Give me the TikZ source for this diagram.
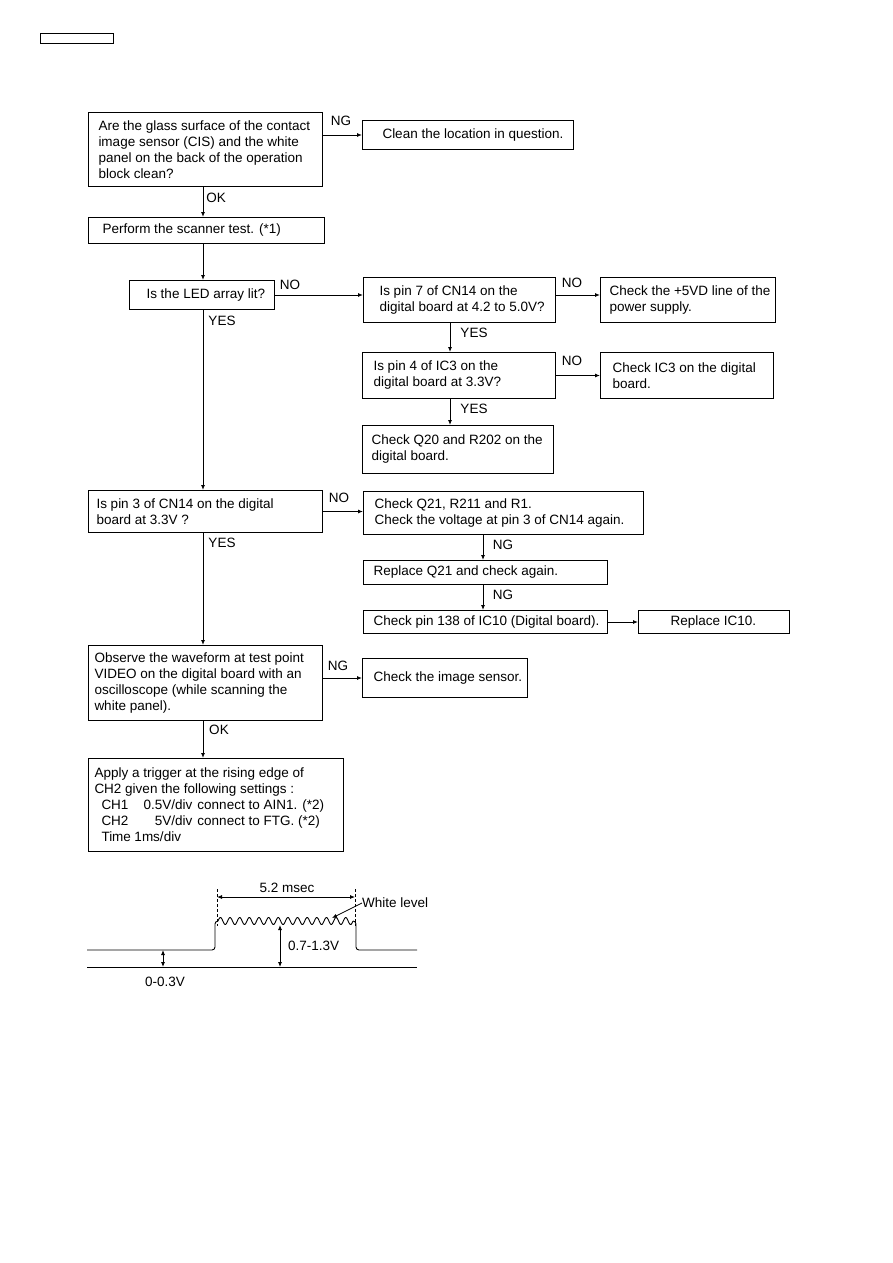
\documentclass[tikz,border=0pt]{standalone}
\usepackage{fontspec}
\setmainfont{Liberation Sans}
\usetikzlibrary{arrows.meta}
\newcommand\fbx[7]{\node[bx, minimum height=#5pt] (#1) at (#2,#3) {\parbox{#4pt}{\leftskip=#6pt\relax\rightskip=0pt plus 1fil\relax #7\par}};}
\begin{document}
\begin{tikzpicture}[x=1pt,y=-1pt,
  every node/.style={font=\fontsize{13.5}{16}\selectfont},
  bx/.style={draw, line width=1pt, anchor=north west, inner sep=0pt},
  tip/.style={-{Latex[length=5pt,width=4pt]}},
  arr/.style={line width=0.9pt, tip},
  dim/.style={line width=0.8pt, {Latex[length=5pt,width=4pt]}-{Latex[length=5pt,width=4pt]}},
  lbl/.style={inner sep=0pt},
  wv/.style={line width=0.9pt}]
\useasboundingbox (0,0) rectangle (893,1263);
\fill[white] (0,0) rectangle (893,1263);

% header box
\node[draw, line width=1pt, anchor=north west, minimum width=73pt, minimum height=10pt, inner sep=0pt] (hdr) at (40,33) {};

% boxes
\fbx{b1}{88}{112}{234}{74}{10}{Are the glass surface of the contact\\image sensor (CIS) and the white\\panel on the back of the operation\\block clean?}
\fbx{clean}{362}{120}{211}{29}{20}{Clean the location in question.}
\fbx{b2}{88}{217}{236}{26}{14}{Perform the scanner test. (*1)}
\fbx{led}{129}{280}{145}{29}{17}{Is the LED array lit?}
\fbx{pin7}{363}{277}{192}{45}{16}{Is pin 7 of CN14 on the\\digital board at 4.2 to 5.0V?}
\fbx{p5v}{600}{277}{175}{45}{9}{Check the +5VD line of the\\power supply.}
\fbx{ic3q}{362}{352}{193}{46}{11}{Is pin 4 of IC3 on the\\digital board at 3.3V?}
\fbx{ic3c}{600}{352}{173}{46}{12}{Check IC3 on the digital\\board.}
\fbx{q20}{362}{425}{191}{48}{9}{Check Q20 and R202 on the\\digital board.}
\fbx{pin3}{88}{490}{234}{42}{8}{Is pin 3 of CN14 on the digital\\board at 3.3V ?}
\fbx{q21}{363}{491}{280}{43}{11}{Check Q21, R211 and R1.\\Check the voltage at pin 3 of CN14 again.}
\fbx{rq21}{363}{560}{244}{24}{10}{Replace Q21 and check again.}
\fbx{p138}{363}{610}{244}{23}{10}{Check pin 138 of IC10 (Digital board).}
\fbx{ric10}{638}{610}{151}{23}{32}{Replace IC10.}
\fbx{video}{88}{645}{234}{75}{6}{Observe the waveform at test point\\VIDEO on the digital board with an\\oscilloscope (while scanning the\\white panel).}
\fbx{imgs}{362}{658}{165}{39}{11}{Check the image sensor.}
\fbx{trig}{88}{758}{255}{93}{6}{Apply a trigger at the rising edge of\\CH2 given the following settings :\\
\hspace*{7pt}\makebox[33pt][l]{CH1}\makebox[58pt][r]{0.5V/div}\hspace{5pt}connect to AIN1. (*2)\\
\hspace*{7pt}\makebox[33pt][l]{CH2}\makebox[58pt][r]{5V/div}\hspace{5pt}connect to FTG. (*2)\\
\hspace*{7pt}\makebox[33pt][l]{Time}1ms/div}

% connector guide coordinates
\coordinate (tx) at (203,0);
\coordinate (tx2) at (450,0);
\coordinate (tx3) at (483,0);

% connectors
\draw[arr] (b1.east |- clean.west) -- (clean.west);
\draw[arr] (b1.south -| tx) -- (b2.north -| tx);
\draw[arr] (b2.south -| tx) -- (led.north -| tx);
\draw[arr] (led.east) -- (led.east -| pin7.west);
\draw[arr] (led.east -| pin7.east) -- (led.east -| p5v.west);
\draw[arr] (pin7.south -| tx2) -- (ic3q.north -| tx2);
\draw[arr] (ic3q.east) -- (ic3q.east -| ic3c.west);
\draw[arr] (ic3q.south -| tx2) -- (q20.north -| tx2);
\draw[arr] (led.south -| tx) -- (pin3.north -| tx);
\draw[arr] (pin3.east) -- (pin3.east -| q21.west);
\draw[arr] (q21.south -| tx3) -- (rq21.north -| tx3);
\draw[arr] (rq21.south -| tx3) -- (p138.north -| tx3);
\draw[arr] (p138.east) -- (p138.east -| ric10.west);
\draw[arr] (pin3.south -| tx) -- (video.north -| tx);
\draw[arr] (video.east |- imgs.west) -- (imgs.west);
\draw[arr] (video.south -| tx) -- (trig.north -| tx);

% connector labels
\node[lbl] (l1) at (341,121) {NG};
\node[lbl] (l2) at (216,198) {OK};
\node[lbl] (l3) at (290,285) {NO};
\node[lbl] (l4) at (222,321) {YES};
\node[lbl] (l5) at (572,283) {NO};
\node[lbl] (l6) at (474,333) {YES};
\node[lbl] (l7) at (572,361) {NO};
\node[lbl] (l8) at (474,409) {YES};
\node[lbl] (l9) at (339,498) {NO};
\node[lbl] (l10) at (222,543) {YES};
\node[lbl] (l11) at (503,545) {NG};
\node[lbl] (l12) at (503,595) {NG};
\node[lbl] (l13) at (338,666) {NG};
\node[lbl] (l14) at (219,730) {OK};

% waveform
\draw[wv] (87,967) -- (417,967);
\draw[wv, rounded corners=3pt] (87,950) -- (215,950) -- (215,921) -- (218,921);
\draw[wv] plot[domain=0:14, samples=281] ({218+\x*9.64},{921-3.5*sin(\x*360)});
\draw[wv, rounded corners=3pt] (353,921) -- (356,921) -- (356,950) -- (417,950);
\draw[line width=0.8pt, dash pattern=on 3pt off 2pt] (217,889) -- (217,926);
\draw[line width=0.8pt, dash pattern=on 3pt off 2pt] (355,889) -- (355,926);
\coordinate (m1) at (217,897);
\coordinate (m2) at (355,897);
\draw[dim] (m1) -- (m2);
\node[lbl] (msec) at (287,888) {5.2 msec};
\node[lbl, anchor=west] (wl) at (362,903) {White level};
\coordinate (wt) at (332,918);
\draw[line width=0.8pt, tip] (wl.west) -- (wt);
\coordinate (v1) at (280,925);
\coordinate (v2) at (280,967);
\draw[dim] (v1) -- (v2);
\node[lbl, anchor=west] (vl) at (288,946) {0.7-1.3V};
\coordinate (z1) at (163,950);
\coordinate (z2) at (163,967);
\draw[dim] (z1) -- (z2);
\node[lbl] (zl) at (165,982) {0-0.3V};
\end{tikzpicture}
\end{document}
